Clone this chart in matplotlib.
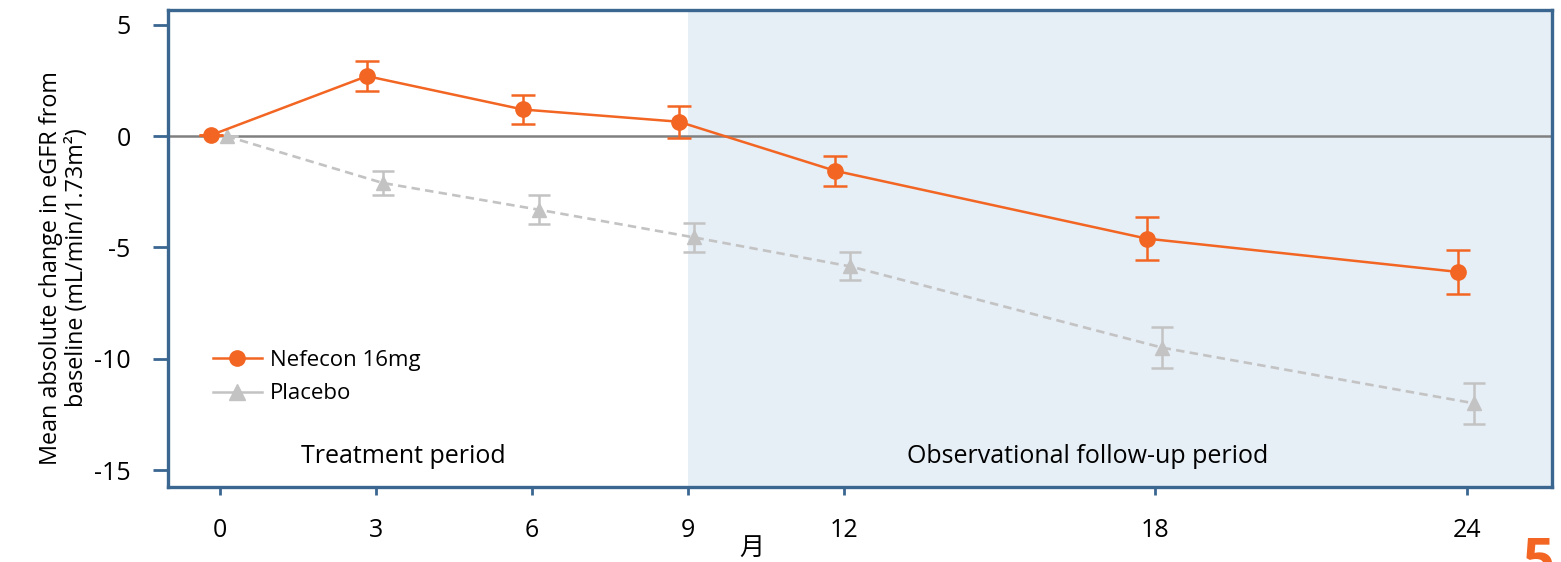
import numpy as np
import matplotlib
matplotlib.use('Agg')
import matplotlib.pyplot as plt
from matplotlib.lines import Line2D

plt.rcParams['font.family'] = ['Open Sans', 'DejaVu Sans']

# data
months = [0, 3, 6, 9, 12, 18, 24]
nefecon = [0.05, 2.7, 1.2, 0.65, -1.55, -4.6, -6.1]
nefecon_err = [0.0, 0.68, 0.65, 0.72, 0.68, 0.95, 1.0]
placebo = [0.0, -2.1, -3.3, -4.55, -5.85, -9.5, -12.0]
placebo_err = [0.0, 0.52, 0.65, 0.65, 0.63, 0.92, 0.92]

ORANGE = '#F26522'
GREY = '#C3C3C3'
SPINE = '#3A6690'
SHADE = '#E6EEF6'

fig = plt.figure(figsize=(15.61, 5.62), dpi=100)
ax = fig.add_axes([168 / 1561, 1 - 487 / 562, 1384 / 1561, 477 / 562])

xlo, xhi = -1.0, 25.63
ax.set_xlim(xlo, xhi)
ax.set_ylim(-15.76, 5.67)

# observational follow-up shading and zero line
ax.axvspan(9, xhi, color=SHADE, zorder=0, lw=0)
ax.axhline(0, color='#808080', lw=1.8, zorder=1)

x = np.array(months, dtype=float)
ax.errorbar(x + 0.13, placebo, yerr=placebo_err, color=GREY, ecolor=GREY,
            marker='^', markersize=10.5, lw=1.9, ls=(0, (3.2, 2)),
            capsize=8, capthick=1.8, elinewidth=1.8, zorder=2)
ax.errorbar(x - 0.17, nefecon, yerr=nefecon_err, color=ORANGE, ecolor=ORANGE,
            marker='o', markersize=11, lw=1.8,
            capsize=8.5, capthick=1.8, elinewidth=1.8, zorder=3)

ax.text(3.52, -14.37, 'Treatment period', fontsize=18, ha='center', va='center')
ax.text(16.69, -14.37, 'Observational follow-up period', fontsize=18,
        ha='center', va='center')

handles = [Line2D([], [], color=ORANGE, marker='o', markersize=11, lw=1.8),
           Line2D([], [], color=GREY, marker='^', markersize=11, lw=1.8)]
ax.legend(handles, ['Nefecon 16mg', 'Placebo'], loc='upper left',
          bbox_to_anchor=(0.018, 0.33), frameon=False, fontsize=16,
          handlelength=2.2, handletextpad=0.35, labelspacing=0.58)

ax.set_xticks(months)
ax.set_yticks([5, 0, -5, -10, -15])
ax.set_yticklabels(['5', '0', '-5', '-10', '-15'])
ax.tick_params(axis='both', labelsize=18, color=SPINE, width=2)
ax.tick_params(axis='y', length=11, pad=16)
ax.tick_params(axis='x', length=6, pad=16)

for s in ax.spines.values():
    s.set_color(SPINE)
    s.set_linewidth(2.4)

ax.set_ylabel('Mean absolute change in eGFR from\nbaseline (mL/min/1.73m²)',
              fontsize=16.8, linespacing=1.12)
ax.yaxis.set_label_coords(-0.057, 0.46)

fig.text(752 / 1561, 1 - 548 / 562, '月', fontsize=18, ha='center', va='center',
         family=['Noto Sans CJK SC', 'DejaVu Sans'])
fig.text(1522 / 1561, 1 - 536 / 562, '5', fontsize=40, ha='left', va='top',
         color=ORANGE, fontweight='bold')

fig.savefig('out.png', dpi=100)
